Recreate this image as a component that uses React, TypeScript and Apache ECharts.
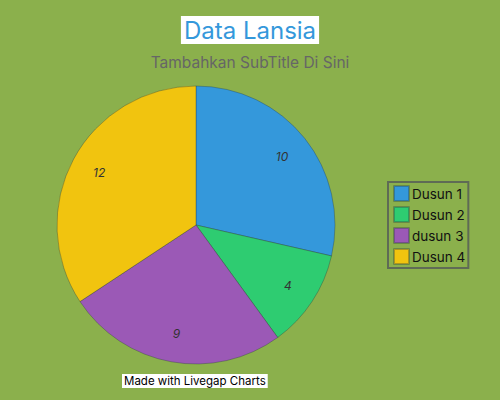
import React, { useEffect, useRef } from "react";
import * as echarts from "echarts";

const categories = ["Dusun 1", "Dusun 2", "dusun 3", "Dusun 4"];
const values = [10, 4, 9, 12];
const colors = ["#3498db", "#2ecc71", "#9b59b6", "#f1c40f"];
const titleText = "Data Lansia";
const subtitleText = "Tambahkan SubTitle Di Sini";
const creditText = "Made with Livegap Charts";

const FONT = "Inter, 'Noto Sans', sans-serif";

export default function App() {
  const ref = useRef<HTMLDivElement>(null);
  useEffect(() => {
    if (!ref.current) return;
    const chart = echarts.init(ref.current, null, { renderer: "svg" });
    const data = categories.map((name, i) => ({
      name,
      value: values[i],
      itemStyle: { color: colors[i] },
    }));
    chart.setOption({
      animation: false,
      backgroundColor: "#8bb04c",
      textStyle: { fontFamily: FONT },
      title: [
        {
          text: titleText,
          left: "center",
          top: 16,
          backgroundColor: "#ffffff",
          padding: [2, 3, 2, 3],
          textStyle: { color: "#3498db", fontSize: 24, fontWeight: "normal", fontFamily: FONT },
        },
        {
          text: subtitleText,
          left: "center",
          top: 54,
          padding: 0,
          textStyle: { color: "#666666", fontSize: 15.5, fontWeight: "normal", fontFamily: FONT },
        },
      ],
      legend: {
        orient: "vertical",
        left: 388,
        top: 182,
        data: categories,
        itemWidth: 15,
        itemHeight: 15,
        itemGap: 4,
        padding: [3, 3, 3, 5],
        borderColor: "#5f6b55",
        borderWidth: 2,
        icon: "rect",
        textStyle: { color: "#111", fontSize: 13.5, fontFamily: FONT, padding: [0, 0, 0, -2] },
      },
      graphic: [
        {
          type: "text",
          left: 122,
          top: 374,
          style: {
            text: creditText,
            fill: "#000",
            fontSize: 11.5,
            fontFamily: FONT,
            backgroundColor: "#fff",
            padding: [1, 2, 1, 2],
          },
        },
      ],
      series: [
        {
          type: "pie",
          center: [196, 225],
          radius: [0, 139],
          startAngle: 90,
          clockwise: true,
          silent: true,
          label: { show: false },
          labelLine: { show: false },
          itemStyle: { borderColor: "rgba(40,60,60,0.35)", borderWidth: 1 },
          data,
        },
        {
          type: "pie",
          center: [196, 225],
          radius: [75, 139],
          startAngle: 90,
          clockwise: true,
          silent: true,
          itemStyle: { color: "transparent", borderWidth: 0 },
          label: {
            show: true,
            position: "inside",
            formatter: "{c}",
            color: "#333",
            fontSize: 12,
            fontStyle: "italic",
            fontFamily: FONT,
          },
          labelLine: { show: false },
          data: categories.map((name, i) => ({ name, value: values[i] })),
        },
      ],
    });
    return () => chart.dispose();
  }, []);
  return <div ref={ref} style={{ width: 500, height: 400, position: "absolute", left: 0, top: 0 }} />;
}
